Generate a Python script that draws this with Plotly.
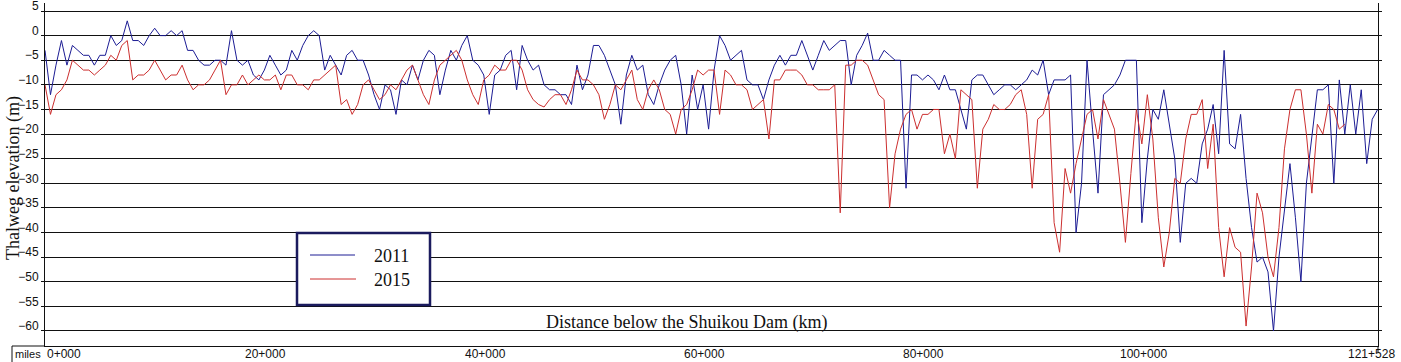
import plotly.graph_objects as go

# ---------------- data ----------------
series_names = ["2011", "2015"]
series_colors = ["#1c1c94", "#cc2f2f"]

step_km = 0.5  # sampling interval along the river (km)

elev_2011 = [
    -3, -12, -6, -1, -6, -2, -3, -4, -4, -6,
    -4, -4, 0, -2, -1, 3, -1, -1, -2, 0,
    1.5, 0, 0, 1, 0, 1, -3, -3, -5, -6,
    -6, -5, -5, -6, 1, -5, -6, -5, -8, -9,
    -7, -4, -6, -8, -7, -3, -5, -2, 0, 1,
    0, -7, -4, -6, -8, -4, -3, -5, -5, -8,
    -12, -15, -10, -11, -16, -9, -10, -6, -9, -5,
    -3, -4, -12, -7, -3, -5, -2, 0, -5, -6,
    -8, -16, -8, -7, -4, -3, -11, -2, -5, -7,
    -6, -10, -11, -11, -12, -12, -14, -6, -11, -8,
    -2, -2, -4, -7, -10, -18, -8, -4, -7, -6,
    -12, -14, -10, -7, -5, -4, -10, -20, -8, -15,
    -10, -19, -7, 0, -2, -5, -4, -3, -9, -10,
    -10, -13, -9, -6, -4, -6, -4, -4, -1, -4,
    -7, -4, -1, -3, -2, -1, -1, -10, -4, -2,
    0.5, -5, -5, -3, -4, -5, -5, -31, -8, -8,
    -9, -8, -9, -11, -8, -11, -11, -15, -19, -9,
    -8, -8, -10, -12, -11, -10, -10, -11, -10, -9,
    -7, -8, -5, -12, -9, -9, -9, -8, -40, -30,
    -5, -19, -32, -12, -11, -10, -8, -5, -5, -5,
    -38, -25, -15, -17, -11, -18, -25, -42, -30, -29,
    -30, -22, -19, -14, -24, -3, -22, -23, -16, -29,
    -39, -46, -45, -48, -60, -45, -36, -26, -37, -50,
    -30, -20, -11, -11, -10, -30, -9, -20, -10, -20,
    -11, -26, -17, -15,
]

elev_2015 = [
    -10, -16, -12, -11, -9, -5, -6, -7, -7, -8,
    -7, -6, -4, -5, -2, -1, -9, -8, -8, -7,
    -5, -7, -9, -8, -8, -6, -9, -11, -10, -10,
    -9, -7, -5, -12, -10, -10, -8, -10, -9, -8,
    -9, -9, -8, -11, -8, -8, -10, -10, -11, -9,
    -9, -8, -7, -6, -14, -13, -16, -14, -10, -9,
    -11, -13, -12, -10, -11, -9, -7, -6, -9, -12,
    -14, -9, -6, -5, -4, -3, -5, -9, -12, -14,
    -9, -8, -6, -7, -7, -5, -5, -7, -11, -13,
    -14, -14.5, -13, -12, -12, -14, -11, -7, -9, -9,
    -10, -12, -17, -14, -10, -11, -9, -7, -13, -15,
    -11, -9, -11, -15, -16, -20, -15, -14, -11, -7,
    -8, -7, -7, -16, -7, -8, -10, -10, -11, -15,
    -14, -13, -21, -9, -9, -7, -7, -7, -8, -10,
    -10, -11, -11, -11, -10, -36, -6, -6, -5, -5,
    -6, -9, -12, -13, -35, -24, -19, -16, -15, -19,
    -16, -16, -15, -15, -24, -20, -25, -11, -12, -13,
    -31, -19, -17, -14, -15, -15, -14, -12, -11, -16,
    -31, -17, -16, -12, -38, -44, -27, -32, -26, -21,
    -16, -15, -21, -13, -16, -19, -30, -42, -28, -15,
    -22, -12, -21, -37, -47, -40, -29, -30, -21, -16,
    -16, -13, -27, -18, -39, -49, -39, -43, -44, -59,
    -47, -32, -36, -45, -49, -39, -23, -15, -11, -11,
    -20, -32, -18, -20, -14, -15, -19, -18,
]

dist_2011 = [i * step_km for i in range(len(elev_2011))]
dist_2015 = [i * step_km for i in range(len(elev_2015))]

x_end_km = 121.528
x_tick_vals = [0, 20, 40, 60, 80, 100, 121.528]
x_tick_text = ["0+000", "20+000", "40+000", "60+000", "80+000", "100+000", "121+528"]
y_tick_vals = [5, 0, -5, -10, -15, -20, -25, -30, -35, -40, -45, -50, -55, -60]
y_top_label = "5"

x_title = "Distance below the Shuikou Dam (km)"
y_title = "Thalweg elevation (m)"

# ---------------- figure ----------------
SERIF = "Liberation Serif, Times New Roman, serif"
SANS = "Liberation Sans, Arial, sans-serif"

fig = go.Figure()
fig.add_trace(go.Scatter(x=dist_2011, y=elev_2011, mode="lines", name=series_names[0],
                         line=dict(color=series_colors[0], width=1)))
fig.add_trace(go.Scatter(x=dist_2015, y=elev_2015, mode="lines", name=series_names[1],
                         line=dict(color=series_colors[1], width=1)))

fig.update_layout(
    width=1401, height=362,
    margin=dict(l=45, r=23, t=3, b=16, autoexpand=False),
    paper_bgcolor="white", plot_bgcolor="white",
    showlegend=False,
    font=dict(family=SANS, size=12, color="#111"),
)

fig.update_xaxes(
    range=[0, x_end_km], showgrid=False, zeroline=False, automargin=False,
    showline=True, linecolor="#111", linewidth=1,
    showticklabels=False, ticks="",
)
fig.update_yaxes(
    range=[-63.05, 6.625], tickvals=y_tick_vals, automargin=False,
    showgrid=True, gridcolor="#111", gridwidth=1, zeroline=False,
    showline=True, linecolor="#111", linewidth=1, mirror="ticks",
    ticks="outside", ticklen=3, tickcolor="#111",
    ticklabelshift=-5, ticklabelstandoff=0,
    tickfont=dict(family=SANS, size=12, color="#111"),
)

PW, PH = 1333.0, 343.0
def px_x(px):
    return (px - 45) / PW
def px_y(py):
    return (346 - py) / PH

ann = []
# x tick labels (as annotations so that the first/last sit like the reference)
for v, t in zip(x_tick_vals, x_tick_text):
    frac = v / x_end_km
    if v == 0:
        anchor, xp = "left", frac
    elif v == x_end_km:
        anchor, xp = "right", px_x(1397)
    else:
        anchor, xp = "center", frac + 0.001
    ann.append(dict(text=t, xref="paper", yref="paper", x=xp, y=px_y(353.5),
                    showarrow=False, xanchor=anchor, yanchor="middle",
                    font=dict(family=SANS, size=12, color="#111")))
# top y label, which plotly drops because it sits at the very edge
ann.append(dict(text=y_top_label, xref="paper", yref="paper", x=px_x(41), y=px_y(6),
                showarrow=False, xanchor="right", yanchor="middle",
                font=dict(family=SANS, size=12, color="#111")))
ann.append(dict(text=y_title, xref="paper", yref="paper", x=px_x(13), y=px_y(178),
                textangle=-90, showarrow=False, xanchor="center", yanchor="middle",
                font=dict(family=SERIF, size=18, color="#111")))
ann.append(dict(text=x_title, xref="paper", yref="paper", x=px_x(686), y=px_y(322),
                showarrow=False, xanchor="center", yanchor="middle",
                font=dict(family=SERIF, size=18, color="#111")))
ann.append(dict(text="miles", xref="paper", yref="paper", x=px_x(13), y=px_y(354),
                showarrow=False, xanchor="left", yanchor="middle",
                font=dict(family=SANS, size=11, color="#111")))
# manual legend text
ann.append(dict(text=series_names[0], xref="paper", yref="paper", x=px_x(372), y=px_y(256),
                showarrow=False, xanchor="left", yanchor="middle",
                font=dict(family=SERIF, size=18, color="#111")))
ann.append(dict(text=series_names[1], xref="paper", yref="paper", x=px_x(372), y=px_y(280),
                showarrow=False, xanchor="left", yanchor="middle",
                font=dict(family=SERIF, size=18, color="#111")))
fig.update_layout(annotations=ann)

shapes = []
# legend box
shapes.append(dict(type="rect", xref="paper", yref="paper",
                   x0=px_x(297), x1=px_x(430), y0=px_y(305), y1=px_y(233),
                   line=dict(color="#1b1b5e", width=2.5), fillcolor="white", layer="above"))
shapes.append(dict(type="line", xref="paper", yref="paper",
                   x0=px_x(310), x1=px_x(355), y0=px_y(255), y1=px_y(255),
                   line=dict(color=series_colors[0], width=1), layer="above"))
shapes.append(dict(type="line", xref="paper", yref="paper",
                   x0=px_x(310), x1=px_x(356), y0=px_y(279), y1=px_y(279),
                   line=dict(color=series_colors[1], width=1), layer="above"))
# bottom-left label box edges
shapes.append(dict(type="line", xref="paper", yref="paper",
                   x0=px_x(12), x1=px_x(45), y0=0, y1=0,
                   line=dict(color="#111", width=1)))
shapes.append(dict(type="line", xref="paper", yref="paper",
                   x0=px_x(12), x1=px_x(12), y0=0, y1=px_y(362),
                   line=dict(color="#111", width=1)))
shapes.append(dict(type="line", xref="paper", yref="paper",
                   x0=1, x1=1, y0=0, y1=px_y(352),
                   line=dict(color="#111", width=1)))
fig.update_layout(shapes=shapes)

fig.write_html("out.html", config={"displayModeBar": False},
               post_script="document.body.style.margin='0px';document.body.style.overflow='hidden';")
